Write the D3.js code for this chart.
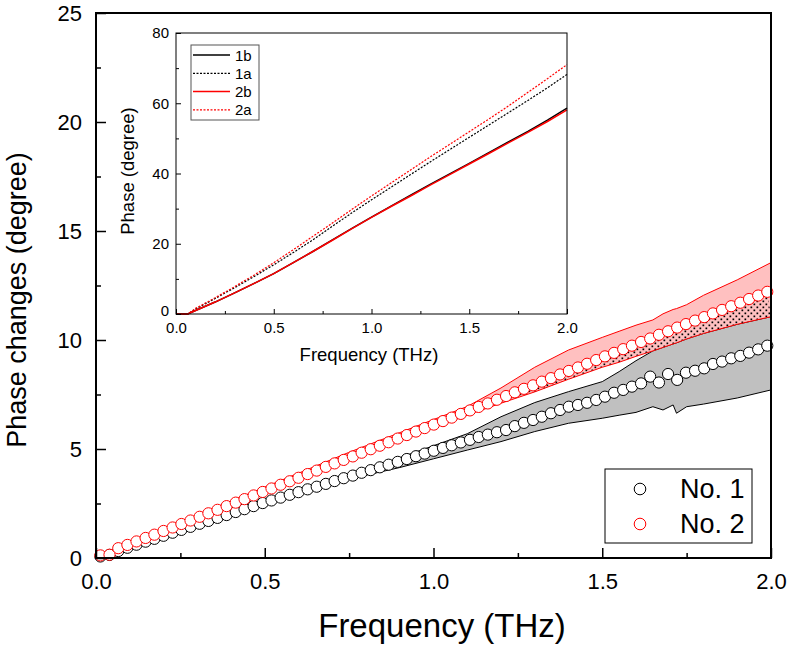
<!DOCTYPE html>
<html>
<head>
<meta charset="utf-8">
<script src="https://cdn.jsdelivr.net/npm/d3@7"></script>
<style>
  body { margin: 0; background: #fff; }
  text { font-family: "Liberation Sans", Arial, sans-serif; fill: #000; }
</style>
</head>
<body>
<div id="chart"></div>
<script>
// marker frequencies (THz)
const freq = [0.013,0.040,0.066,0.093,0.120,0.147,0.173,0.200,0.227,0.253,0.280,0.307,0.333,0.360,0.387,0.414,0.440,0.467,0.494,
  0.520,0.547,0.574,0.600,0.627,0.654,0.681,0.707,0.734,0.761,0.787,0.814,0.841,0.867,0.894,0.921,0.948,0.974,1.001,
  1.028,1.054,1.081,1.108,1.134,1.161,1.188,
  1.215,1.241,1.268,1.295,1.321,1.348,1.375,1.401,1.428,1.455,1.482,1.508,1.535,1.562,1.588,1.615,1.642,1.668,1.695,1.722,
  1.748,1.775,1.802,1.828,1.855,1.882,1.909,1.935,1.962,1.989];

const no1 = [0.07,0.14,0.32,0.47,0.61,0.75,0.88,1.02,1.16,1.29,1.43,1.57,1.70,1.84,1.97,2.11,2.24,2.38,2.52,
  2.64,2.77,2.90,3.02,3.15,3.27,3.40,3.53,3.66,3.78,3.91,4.03,4.16,4.28,4.41,4.54,4.67,4.79,4.92,
  5.05,5.17,5.30,5.42,5.55,5.66,5.77,
  5.87,6.05,6.20,6.33,6.48,6.64,6.79,6.94,7.02,7.12,7.25,7.40,7.58,7.71,7.86,8.01,8.32,8.05,8.44,8.17,
  8.50,8.59,8.70,8.90,9.01,9.16,9.27,9.42,9.57,9.74];

const no2 = [0.12,0.15,0.45,0.60,0.76,0.92,1.07,1.24,1.40,1.56,1.72,1.89,2.05,2.21,2.38,2.54,2.70,2.87,3.03,
  3.19,3.36,3.52,3.68,3.85,4.01,4.18,4.34,4.50,4.66,4.83,4.99,5.15,5.31,5.48,5.64,5.80,5.96,6.12,
  6.28,6.44,6.61,6.77,6.93,7.09,7.26,
  7.43,7.60,7.76,7.92,8.09,8.25,8.42,8.58,8.74,8.91,9.08,9.25,9.41,9.58,9.74,9.91,10.07,10.24,10.40,10.57,
  10.73,10.89,11.05,11.22,11.38,11.55,11.71,11.88,12.04,12.21];

// uncertainty bands
const bandFreq = [0.00,0.25,0.50,0.75,0.90,1.00,1.10,1.20,1.30,1.40,1.50,1.55,1.60,1.65,1.68,1.71,1.72,1.75,1.80,1.90,2.00];
const no1Low  = [0.0,1.20,2.45,3.62,4.15,4.55,4.95,5.34,5.80,6.18,6.41,6.55,6.68,6.94,6.79,7.02,6.64,6.94,7.06,7.34,7.71];
const no1High = [0.0,1.30,2.60,3.82,4.60,5.15,5.70,6.48,7.13,7.63,8.09,8.55,9.05,9.50,9.66,9.82,9.87,10.05,10.30,10.72,11.07];
const no2Low  = [0.0,1.45,2.95,4.50,5.40,5.98,6.55,7.10,7.62,8.20,8.75,8.98,9.25,9.50,9.66,9.82,9.87,10.05,10.30,10.72,11.07];
const no2High = [0.0,1.65,3.25,4.85,5.75,6.35,6.95,7.80,8.75,9.54,10.12,10.40,10.68,10.92,11.20,11.40,11.44,11.62,12.05,12.76,13.55];

// inset
const insetFreq = [0,0.06,0.1,0.2,0.3,0.4,0.5,0.6,0.7,0.8,0.9,1.0,1.1,1.2,1.3,1.4,1.5,1.6,1.7,1.8,1.9,2.0];
const line1b = [0,0,1.0,3.4,6.0,8.7,11.5,14.6,17.8,21.1,24.4,27.6,30.7,33.8,36.9,39.9,42.9,45.9,49.0,52.0,55.2,58.6];
const line1a = [0,0,1.4,4.4,7.5,10.7,14.0,17.5,21.1,25.0,28.8,32.5,36.1,39.7,43.3,46.8,50.3,53.8,57.3,60.8,64.4,68.2];
const line2b = [0,0,1.0,3.4,6.0,8.7,11.5,14.6,17.8,21.0,24.3,27.5,30.6,33.6,36.7,39.7,42.7,45.7,48.7,51.7,54.8,58.1];
const line2a = [0,0,1.6,4.6,7.8,11.1,14.6,18.3,22.1,25.9,29.8,33.6,37.3,41.0,44.7,48.3,51.9,55.5,59.2,63.1,67.0,71.0];

const xTicks = [0, 0.5, 1.0, 1.5, 2.0];
const xMinor = [0.25, 0.75, 1.25, 1.75];
const yTicks = [0, 5, 10, 15, 20, 25];
const yMinor = [2.5, 7.5, 12.5, 17.5, 22.5];
const insetYTicks = [0, 20, 40, 60, 80];
const insetYMinor = [10, 30, 50, 70];

const width = 787, height = 646;
const margin = { top: 13, right: 16, bottom: 88, left: 96 };

const svg = d3.select('#chart').append('svg')
    .attr('width', width)
    .attr('height', height);

const x = d3.scaleLinear().domain([0, 2]).range([margin.left, width - margin.right]);
const y = d3.scaleLinear().domain([0, 25]).range([height - margin.bottom, margin.top]);

// dot pattern
const defs = svg.append('defs');
const pat = defs.append('pattern')
    .attr('id', 'dots').attr('patternUnits', 'userSpaceOnUse')
    .attr('width', 6).attr('height', 6);
pat.append('rect').attr('x', 0.5).attr('y', 0.5).attr('width', 1.7).attr('height', 1.7).attr('fill', '#000');
pat.append('rect').attr('x', 3.5).attr('y', 3.5).attr('width', 1.7).attr('height', 1.7).attr('fill', '#000');

const band = (lo, hi) => d3.area()
    .x((d, i) => x(bandFreq[i]))
    .y0((d, i) => y(lo[i]))
    .y1((d, i) => y(hi[i]));
const edge = arr => d3.line().x((d, i) => x(bandFreq[i])).y((d, i) => y(arr[i]));

// gray band (No. 1)
svg.append('path').attr('d', band(no1Low, no1High)(bandFreq)).attr('fill', '#c0c0c0');
svg.append('path').attr('d', edge(no1Low)(bandFreq)).attr('fill', 'none').attr('stroke', '#000').attr('stroke-width', 1);
svg.append('path').attr('d', edge(no1High)(bandFreq)).attr('fill', 'none').attr('stroke', '#000').attr('stroke-width', 1);

// red band (No. 2)
svg.append('path').attr('d', band(no2Low, no2High)(bandFreq)).attr('fill', '#ffc0c0');

// dotted region under the No. 2 markers
const topPts = freq.map((f, i) => [f, no2[i]]).filter(p => p[0] >= 1.2);
const botPts = bandFreq.map((f, i) => [f, no2Low[i]]).filter(p => p[0] >= 1.2).reverse();
svg.append('path')
    .attr('d', d3.line().x(p => x(p[0])).y(p => y(p[1]))(topPts.concat(botPts)) + 'Z')
    .attr('fill', 'url(#dots)');

svg.append('path').attr('d', edge(no2Low)(bandFreq)).attr('fill', 'none').attr('stroke', 'red').attr('stroke-width', 1);
svg.append('path').attr('d', edge(no2High)(bandFreq)).attr('fill', 'none').attr('stroke', 'red').attr('stroke-width', 1);

// markers
svg.append('g').selectAll('circle').data(no1).join('circle')
    .attr('cx', (d, i) => x(freq[i])).attr('cy', d => y(d)).attr('r', 5.6)
    .attr('fill', '#fff').attr('stroke', '#000').attr('stroke-width', 1);
svg.append('g').selectAll('circle').data(no2).join('circle')
    .attr('cx', (d, i) => x(freq[i])).attr('cy', d => y(d)).attr('r', 5.6)
    .attr('fill', '#fff').attr('stroke', 'red').attr('stroke-width', 1);

// axes
function styleAxis(g, size) {
    g.select('.domain').remove();
    g.selectAll('.tick line').attr('stroke', '#000').attr('stroke-width', 1.5);
    g.selectAll('text').attr('font-size', size).attr('font-family', '"Liberation Sans", Arial, sans-serif').attr('fill', '#000');
}
svg.append('g').attr('transform', `translate(0,${y(0)})`)
    .call(d3.axisBottom(x).tickValues(xTicks).tickSize(-10).tickPadding(15).tickFormat(d3.format('.1f')))
    .call(g => styleAxis(g, 22));
svg.append('g').attr('transform', `translate(0,${y(0)})`)
    .call(d3.axisBottom(x).tickValues(xMinor).tickSize(-5).tickFormat(''))
    .call(g => styleAxis(g, 22));
svg.append('g').attr('transform', `translate(${x(0)},0)`)
    .call(d3.axisLeft(y).tickValues(yTicks).tickSize(-10).tickPadding(14))
    .call(g => styleAxis(g, 22));
svg.append('g').attr('transform', `translate(${x(0)},0)`)
    .call(d3.axisLeft(y).tickValues(yMinor).tickSize(-5).tickFormat(''))
    .call(g => styleAxis(g, 22));

svg.append('rect')
    .attr('x', x(0)).attr('y', y(25))
    .attr('width', x(2) - x(0)).attr('height', y(0) - y(25))
    .attr('fill', 'none').attr('stroke', '#000').attr('stroke-width', 2);

svg.append('text').attr('x', 442).attr('y', 637).attr('text-anchor', 'middle')
    .attr('font-size', 33).text('Frequency (THz)');
svg.append('text').attr('transform', 'translate(26,300) rotate(-90)').attr('text-anchor', 'middle')
    .attr('font-size', 27).text('Phase changes (degree)');

// legend
const leg = svg.append('g');
leg.append('rect').attr('x', 605).attr('y', 469).attr('width', 147).attr('height', 74)
    .attr('fill', '#fff').attr('stroke', '#000').attr('stroke-width', 1);
[['No. 1', '#000'], ['No. 2', 'red']].forEach((s, i) => {
    leg.append('circle').attr('cx', 640).attr('cy', 489 + i * 35).attr('r', 5.8)
        .attr('fill', '#fff').attr('stroke', s[1]).attr('stroke-width', 1);
    leg.append('text').attr('x', 680).attr('y', 498 + i * 35).attr('font-size', 27).text(s[0]);
});

// ---------- inset ----------
const ix = d3.scaleLinear().domain([0, 2]).range([176, 567]);
const iy = d3.scaleLinear().domain([0, 80]).range([314, 33]);

svg.append('rect').attr('x', ix(0)).attr('y', iy(80))
    .attr('width', ix(2) - ix(0)).attr('height', iy(0) - iy(80)).attr('fill', '#fff');

const iline = arr => d3.line().x((d, i) => ix(insetFreq[i])).y((d, i) => iy(arr[i]))(insetFreq);
const insetSeries = [
    { name: '1b', vals: line1b, color: '#000', dash: null },
    { name: '1a', vals: line1a, color: '#000', dash: '2,1.5' },
    { name: '2b', vals: line2b, color: 'red', dash: null },
    { name: '2a', vals: line2a, color: 'red', dash: '2,1.5' },
];
insetSeries.forEach(s => {
    svg.append('path').attr('d', iline(s.vals)).attr('fill', 'none')
        .attr('stroke', s.color).attr('stroke-width', s.dash ? 1.2 : 1.5)
        .attr('stroke-dasharray', s.dash);
});

function styleInset(g) {
    g.select('.domain').remove();
    g.selectAll('.tick line').attr('stroke', '#000').attr('stroke-width', 1);
    g.selectAll('text').attr('font-size', 15).attr('font-family', '"Liberation Sans", Arial, sans-serif').attr('fill', '#000');
}
svg.append('g').attr('transform', `translate(0,${iy(0)})`)
    .call(d3.axisBottom(ix).tickValues(xTicks).tickSize(-5).tickPadding(8).tickFormat(d3.format('.1f')))
    .call(styleInset);
svg.append('g').attr('transform', `translate(0,${iy(0)})`)
    .call(d3.axisBottom(ix).tickValues(xMinor).tickSize(-3).tickFormat(''))
    .call(styleInset);
svg.append('g').attr('transform', `translate(${ix(0)},0)`)
    .call(d3.axisLeft(iy).tickValues(insetYTicks).tickSize(-5).tickPadding(7))
    .call(styleInset)
    .call(g => g.selectAll('.tick').filter(d => d === 0).select('text').attr('dy', '0.1em'));
svg.append('g').attr('transform', `translate(${ix(0)},0)`)
    .call(d3.axisLeft(iy).tickValues(insetYMinor).tickSize(-3).tickFormat(''))
    .call(styleInset);

svg.append('rect').attr('x', ix(0)).attr('y', iy(80))
    .attr('width', ix(2) - ix(0)).attr('height', iy(0) - iy(80))
    .attr('fill', 'none').attr('stroke', '#000').attr('stroke-width', 1);

svg.append('text').attr('x', 369).attr('y', 361).attr('text-anchor', 'middle')
    .attr('font-size', 18.5).text('Frequency (THz)');
svg.append('text').attr('transform', 'translate(134,171) rotate(-90)').attr('text-anchor', 'middle')
    .attr('font-size', 18.5).text('Phase (degree)');

// inset legend
const il = svg.append('g');
il.append('rect').attr('x', 191).attr('y', 45).attr('width', 68).attr('height', 75)
    .attr('fill', '#fff').attr('stroke', '#555').attr('stroke-width', 1);
insetSeries.forEach((s, i) => {
    const yy = 55 + i * 18.3;
    il.append('line').attr('x1', 193).attr('x2', 230).attr('y1', yy).attr('y2', yy)
        .attr('stroke', s.color).attr('stroke-width', s.dash ? 1.2 : 1.5).attr('stroke-dasharray', s.dash);
    il.append('text').attr('x', 235).attr('y', yy + 5.5).attr('font-size', 15).text(s.name);
});
</script>
</body>
</html>
